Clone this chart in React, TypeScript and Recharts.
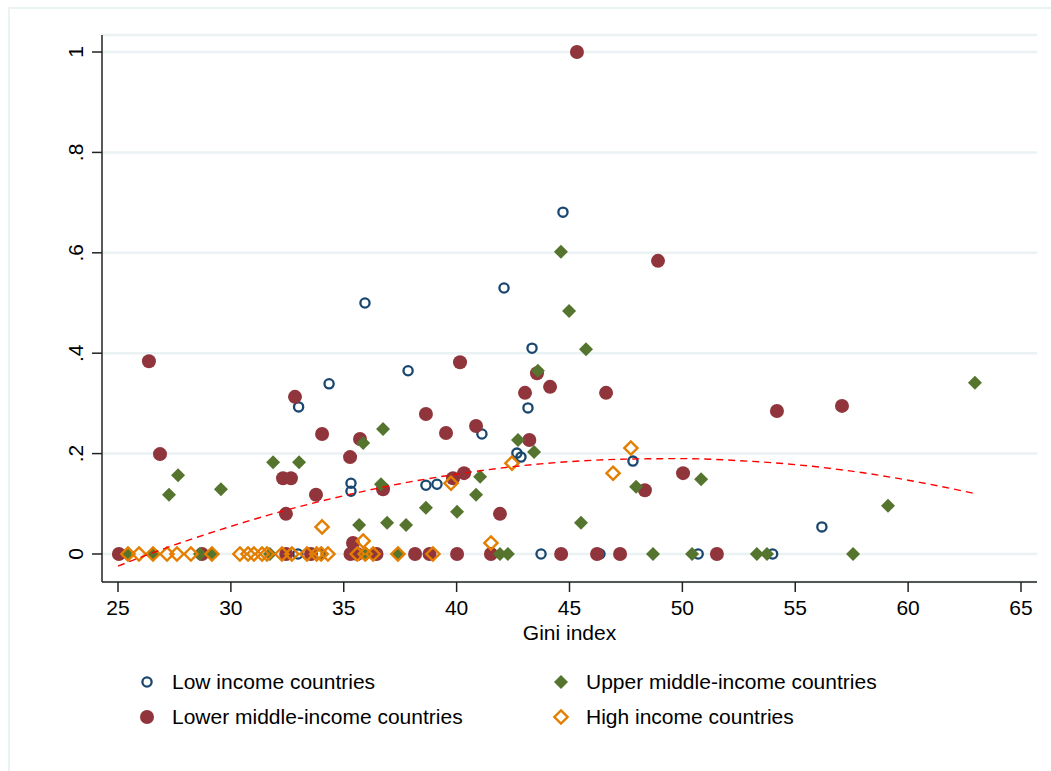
import { CartesianGrid, Scatter, ScatterChart, XAxis, YAxis } from "recharts";

// Stata s2color palette
const NAVY = "#1a476f";
const MAROON = "#90353b";
const GREEN = "#55752f";
const ORANGE = "#e37e00";
const GRID = "#eaf2f3";
const FONT = "'Liberation Sans', Arial, sans-serif";

const xTicks = [25, 30, 35, 40, 45, 50, 55, 60, 65];
const yTicks = [0, 0.2, 0.4, 0.6, 0.8, 1];

const lowGini = [
  44.71, 42.1, 35.94, 43.34, 37.85, 34.35, 33.0, 43.16, 41.12, 42.67, 42.85,
  47.81, 35.32, 35.32, 38.64, 39.13, 56.18, 43.74, 50.7, 54.0, 32.97, 33.95,
  46.35,
];
const lowShare = [
  0.681, 0.53, 0.5, 0.41, 0.365, 0.339, 0.293, 0.291, 0.239, 0.201, 0.193,
  0.185, 0.141, 0.125, 0.137, 0.139, 0.054, 0, 0, 0, 0, 0, 0,
];

const lowerMidGini = [
  45.33, 48.92, 26.37, 40.15, 43.56, 44.14, 43.03, 46.62, 32.84, 57.07, 54.19,
  38.64, 40.86, 39.53, 34.04, 35.72, 43.22, 26.86, 35.28, 50.03, 40.33, 32.31,
  32.66, 39.84, 36.74, 48.34, 33.77, 32.44, 41.92, 35.41, 25.04, 28.72, 32.45,
  33.55, 35.3, 35.6, 36.45, 38.16, 38.8, 40.02, 41.52, 44.63, 46.22, 47.24,
  51.53,
];
const lowerMidShare = [
  1.0, 0.584, 0.384, 0.382, 0.36, 0.333, 0.321, 0.321, 0.313, 0.295, 0.285,
  0.279, 0.255, 0.241, 0.239, 0.229, 0.227, 0.199, 0.193, 0.161, 0.161, 0.151,
  0.151, 0.151, 0.129, 0.127, 0.118, 0.08, 0.08, 0.022, 0, 0, 0, 0, 0, 0, 0,
  0, 0, 0, 0, 0, 0, 0, 0,
];

const upperMidGini = [
  44.62, 44.98, 45.73, 43.6, 62.96, 36.74, 42.72, 35.86, 43.43, 31.87, 33.02,
  27.66, 41.04, 50.83, 36.65, 47.95, 29.56, 27.26, 40.86, 59.11, 38.64, 40.02,
  36.92, 45.51, 35.68, 37.76, 25.44, 26.55, 28.63, 29.16, 31.73, 36.0, 37.4,
  41.92, 42.27, 48.7, 50.43, 53.3, 53.75, 57.56,
];
const upperMidShare = [
  0.602, 0.484, 0.408, 0.365, 0.341, 0.249, 0.227, 0.221, 0.203, 0.183, 0.183,
  0.157, 0.154, 0.149, 0.139, 0.134, 0.129, 0.118, 0.118, 0.096, 0.092, 0.084,
  0.062, 0.062, 0.058, 0.058, 0, 0, 0, 0, 0, 0, 0, 0, 0, 0, 0, 0, 0, 0,
];

const highGini = [
  47.72, 42.45, 46.93, 39.75, 34.04, 35.86, 41.52, 25.44, 25.93, 26.55, 27.17,
  27.61, 28.23, 29.16, 30.4, 30.76, 31.02, 31.38, 31.6, 32.26, 32.7, 33.37,
  33.8, 34.0, 34.3, 35.6, 35.95, 36.3, 37.4, 38.95,
];
const highShare = [
  0.211, 0.181, 0.161, 0.141, 0.054, 0.026, 0.022, 0, 0, 0, 0, 0, 0, 0, 0, 0,
  0, 0, 0, 0, 0, 0, 0, 0, 0, 0, 0, 0, 0, 0,
];

// quadratic fit curve
const fitGini = [25, 27.5, 30, 32.5, 35, 37.5, 40, 42.5, 45, 47.5, 50, 52.5, 55, 57.5, 60, 63];
const fitShare = [
  -0.024, 0.018, 0.055, 0.088, 0.116, 0.14, 0.159, 0.174, 0.184, 0.189, 0.19,
  0.186, 0.178, 0.165, 0.147, 0.12,
];

const zip = (xs: number[], ys: number[]) => xs.map((x, i) => ({ x, y: ys[i] }));

const lowData = zip(lowGini, lowShare);
const lowerMidData = zip(lowerMidGini, lowerMidShare);
const upperMidData = zip(upperMidGini, upperMidShare);
const highData = zip(highGini, highShare);
const fitData = zip(fitGini, fitShare);

const HollowCircle = ({ cx, cy }: any) => (
  <circle cx={cx} cy={cy} r={4.6} fill="none" stroke={NAVY} strokeWidth={2.3} />
);
const SolidCircle = ({ cx, cy }: any) => (
  <circle cx={cx} cy={cy} r={7} fill={MAROON} />
);
const SolidDiamond = ({ cx, cy }: any) => (
  <polygon
    points={`${cx},${cy - 7} ${cx + 7},${cy} ${cx},${cy + 7} ${cx - 7},${cy}`}
    fill={GREEN}
  />
);
const HollowDiamond = ({ cx, cy }: any) => (
  <polygon
    points={`${cx},${cy - 6.6} ${cx + 6.6},${cy} ${cx},${cy + 6.6} ${cx - 6.6},${cy}`}
    fill="none"
    stroke={ORANGE}
    strokeWidth={2.4}
  />
);
const NoDot = () => <g />;

const fmtY = (v: number) => (v === 0 ? "0" : v === 1 ? "1" : String(v).replace(/^0/, ""));

const YTick = ({ x, y, payload }: any) => (
  <text
    x={x}
    y={y}
    transform={`rotate(-90 ${x} ${y})`}
    textAnchor="middle"
    fontSize={21}
    fontFamily={FONT}
    fill="#000"
  >
    {fmtY(payload.value)}
  </text>
);

const legendItems = [
  { label: "Low income countries", Marker: HollowCircle, left: 147, top: 682 },
  { label: "Lower middle-income countries", Marker: SolidCircle, left: 147, top: 717 },
  { label: "Upper middle-income countries", Marker: SolidDiamond, left: 561, top: 682 },
  { label: "High income countries", Marker: HollowDiamond, left: 561, top: 717 },
];

export default function App() {
  return (
    <div
      style={{
        position: "absolute",
        left: 0,
        top: 0,
        width: 1051,
        height: 771,
        background: "#fff",
        fontFamily: FONT,
        overflow: "hidden",
      }}
    >
      {/* graph region frame: only its top and left edges fall inside the picture */}
      <div
        style={{
          position: "absolute",
          left: 8,
          top: 7,
          width: 1051,
          height: 771,
          borderLeft: `2px solid ${GRID}`,
          borderTop: `2px solid ${GRID}`,
        }}
      />
      <ScatterChart
        width={1051}
        height={771}
        margin={{ top: 35, right: 14, bottom: 129, left: 2 }}
        style={{ position: "absolute", left: 0, top: 0 }}
      >
        <CartesianGrid vertical={false} stroke={GRID} strokeWidth={2.5} />
        <XAxis
          type="number"
          dataKey="x"
          domain={[24.291, 65.709]}
          ticks={xTicks}
          allowDataOverflow
          height={60}
          tickSize={10}
          tickMargin={8}
          stroke="#222"
          strokeWidth={1.5}
          tick={{ fill: "#000", fontSize: 21, fontFamily: FONT }}
          label={{
            value: "Gini index",
            position: "insideBottom",
            offset: 2,
            fill: "#000",
            fontSize: 21,
            fontFamily: FONT,
          }}
        />
        <YAxis
          type="number"
          dataKey="y"
          domain={[-0.0558, 1.0339]}
          ticks={yTicks}
          allowDataOverflow
          width={100}
          tickSize={10}
          tickMargin={9}
          stroke="#222"
          strokeWidth={1.5}
          tick={<YTick />}
        />
        <Scatter data={lowData} shape={<HollowCircle />} isAnimationActive={false} />
        <Scatter data={lowerMidData} shape={<SolidCircle />} isAnimationActive={false} />
        <Scatter data={upperMidData} shape={<SolidDiamond />} isAnimationActive={false} />
        <Scatter data={highData} shape={<HollowDiamond />} isAnimationActive={false} />
        <Scatter
          data={fitData}
          shape={<NoDot />}
          line={{ stroke: "#ff0000", strokeWidth: 1.4, strokeDasharray: "7 5" }}
          lineJointType="monotoneX"
          isAnimationActive={false}
        />
      </ScatterChart>
      {legendItems.map(({ label, Marker, left, top }) => (
        <div key={label}>
          <svg
            width={20}
            height={20}
            style={{ position: "absolute", left: left - 10, top: top - 10 }}
          >
            <Marker cx={10} cy={10} />
          </svg>
          <div
            style={{
              position: "absolute",
              left: left + 25,
              top: top - 12,
              lineHeight: "24px",
              fontSize: 21,
              color: "#000",
              whiteSpace: "nowrap",
            }}
          >
            {label}
          </div>
        </div>
      ))}
    </div>
  );
}
